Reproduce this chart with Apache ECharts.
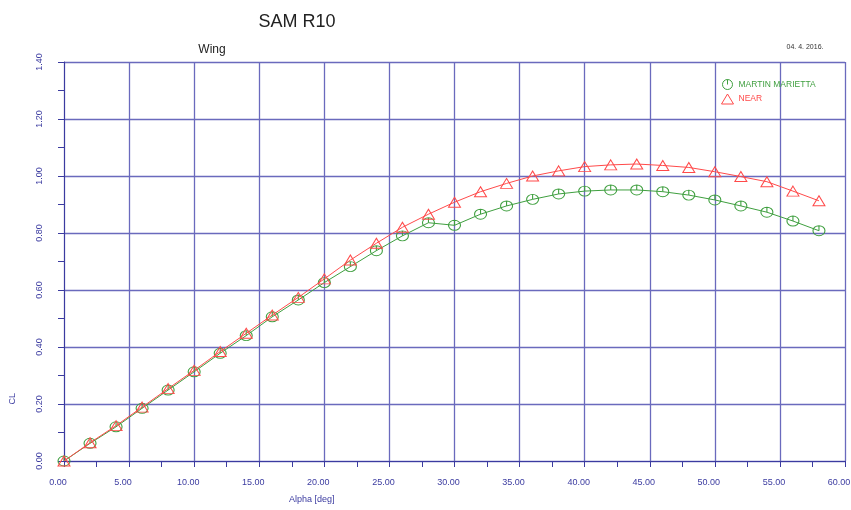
<!DOCTYPE html>
<html>
<head>
<meta charset="utf-8">
<script src="https://cdn.jsdelivr.net/npm/echarts@6/dist/echarts.min.js"></script>
<style>html,body{margin:0;padding:0;background:#fff}#c{width:851px;height:510px}</style>
</head>
<body>
<div id="c"></div>
<script>
const alpha = [0,2,4,6,8,10,12,14,16,18,20,22,24,26,28,30,32,34,36,38,40,42,44,46,48,50,52,54,56,58];
const clMartin = [0,0.062,0.120,0.185,0.249,0.313,0.378,0.440,0.506,0.565,0.626,0.682,0.738,0.790,0.836,0.827,0.866,0.895,0.918,0.937,0.947,0.951,0.951,0.945,0.933,0.916,0.895,0.873,0.842,0.808];
const clNear = [0,0.064,0.124,0.189,0.254,0.318,0.384,0.448,0.512,0.574,0.639,0.705,0.764,0.820,0.866,0.908,0.945,0.974,1.000,1.018,1.033,1.039,1.042,1.037,1.030,1.015,0.998,0.980,0.947,0.913];
const seriesNames = ['MARTIN MARIETTA','NEAR'];
const titleText = 'SAM R10';
const subText = 'Wing';
const dateText = '04. 4. 2016.';
const xName = 'Alpha [deg]';
const yName = 'CL';

const navy = '#3b3ba0';
const gridCol = '#6a6abd';
const green = '#3f9f3f';
const red = '#ff4a4a';
const circlePath = 'path://M0,-5A5,5,0,1,1,0,5A5,5,0,1,1,0,-5ZM0,-5L0,0';

const chart = echarts.init(document.getElementById('c'));
chart.setOption({
  animation: false,
  backgroundColor: '#fff',
  grid: {left: 64, right: 6, top: 62, bottom: 49, outerBoundsMode: 'none', containLabel: false},
  title: [
    {text: titleText, left: 292, top: 8, textAlign: 'center',
     textStyle: {fontFamily: 'Liberation Sans', fontSize: 18, fontWeight: 'normal', color: '#222'}},
    {text: subText, left: 207, top: 39, textAlign: 'center',
     textStyle: {fontFamily: 'Liberation Sans', fontSize: 12, fontWeight: 'normal', color: '#222'}},
    {text: dateText, left: 800, top: 39, textAlign: 'center',
     textStyle: {fontFamily: 'Liberation Sans', fontSize: 7, fontWeight: 'normal', color: '#333'}}
  ],
  legend: {
    orient: 'vertical', left: 721, top: 79, padding: 0, itemGap: 3.5, itemWidth: 12, itemHeight: 10,
    textStyle: {fontFamily: 'Liberation Sans', fontSize: 8.5},
    data: [
      {name: seriesNames[0], icon: circlePath, textStyle: {color: green},
       itemStyle: {color: 'rgba(0,0,0,0)', borderColor: green, borderWidth: 1}},
      {name: seriesNames[1], icon: 'triangle', textStyle: {color: red},
       itemStyle: {color: 'rgba(0,0,0,0)', borderColor: red, borderWidth: 1}}
    ]
  },
  xAxis: {
    type: 'value', min: 0, max: 60, interval: 5,
    axisLine: {lineStyle: {color: navy, width: 1}},
    axisTick: {show: true, length: 6, lineStyle: {color: navy}},
    minorTick: {show: true, splitNumber: 2, length: 6, lineStyle: {color: navy}},
    splitLine: {show: true, lineStyle: {color: gridCol, width: 1.3}},
    axisLabel: {color: navy, fontFamily: 'Liberation Sans', fontSize: 9, margin: 17,
      padding: [0, 12, 0, 0], formatter: v => v.toFixed(2)}
  },
  yAxis: {
    type: 'value', min: 0, max: 1.4, interval: 0.2,
    axisLine: {show: true, lineStyle: {color: navy, width: 1}},
    axisTick: {show: true, length: 6, lineStyle: {color: navy}},
    minorTick: {show: true, splitNumber: 2, length: 6, lineStyle: {color: navy}},
    splitLine: {show: true, lineStyle: {color: gridCol, width: 1.3}},
    axisLabel: {color: navy, fontFamily: 'Liberation Sans', fontSize: 9, margin: 20, rotate: 90,
      formatter: v => v.toFixed(2)}
  },
  graphic: [
    {type: 'text', left: 8, top: 393, rotation: Math.PI/2,
     style: {text: yName, fill: navy, font: '9px "Liberation Sans"'}},
    {type: 'text', left: 289, top: 495,
     style: {text: xName, fill: navy, font: '9px "Liberation Sans"'}}
  ],
  series: [
    {name: seriesNames[0], type: 'line', data: alpha.map((a,i)=>[a, clMartin[i]]),
     symbol: circlePath, symbolSize: [12,10], symbolKeepAspect: false,
     lineStyle: {color: green, width: 1},
     itemStyle: {color: 'rgba(0,0,0,0)', borderColor: green, borderWidth: 1}, z: 3},
    {name: seriesNames[1], type: 'line', data: alpha.map((a,i)=>[a, clNear[i]]),
     symbol: 'triangle', symbolSize: [12,10],
     lineStyle: {color: red, width: 1},
     itemStyle: {color: 'rgba(0,0,0,0)', borderColor: red, borderWidth: 1}, z: 4}
  ]
});
</script>
</body>
</html>
